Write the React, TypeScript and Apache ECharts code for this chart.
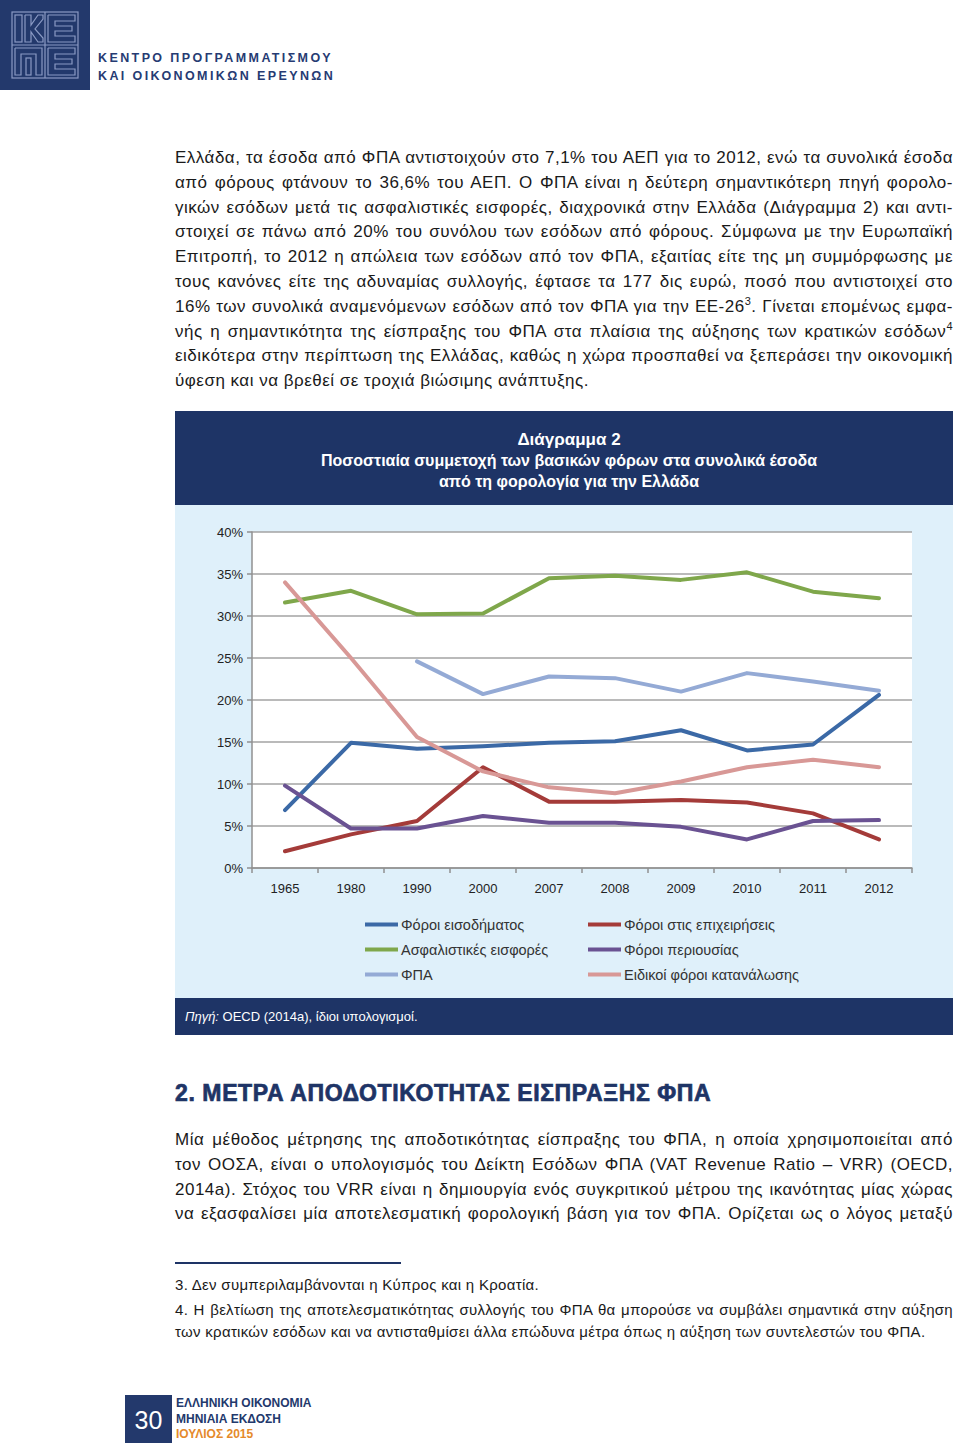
import React, { useEffect, useRef } from "react";
import * as echarts from "echarts";

const years = ["1965", "1980", "1990", "2000", "2007", "2008", "2009", "2010", "2011", "2012"];
const incomeTax = [6.9, 14.9, 14.2, 14.5, 14.9, 15.1, 16.4, 14.0, 14.7, 20.6];
const corporateTax = [2.0, 4.0, 5.6, 12.0, 7.9, 7.9, 8.1, 7.8, 6.5, 3.4];
const socialContrib = [31.6, 33.0, 30.2, 30.3, 34.5, 34.8, 34.3, 35.2, 32.9, 32.1];
const propertyTax = [9.8, 4.7, 4.7, 6.2, 5.4, 5.4, 4.9, 3.4, 5.6, 5.7];
const vat = [null, null, 24.6, 20.7, 22.8, 22.6, 21.0, 23.2, 22.2, 21.1];
const exciseTax = [34.0, 25.0, 15.6, 11.5, 9.6, 8.9, 10.3, 12.0, 12.9, 12.0];
const yTicks = [0, 5, 10, 15, 20, 25, 30, 35, 40];

const seriesNames = [
  "Φόροι εισοδήματος",
  "Φόροι στις επιχειρήσεις",
  "Ασφαλιστικές εισφορές",
  "Φόροι περιουσίας",
  "ΦΠΑ",
  "Ειδικοί φόροι κατανάλωσης",
];
const seriesColors = ["#3b69a6", "#a43b39", "#7fa74b", "#6a5292", "#94aad5", "#d89896"];
const seriesData = [incomeTax, corporateTax, socialContrib, propertyTax, vat, exciseTax];

const NAVY = "#1e3466";
const FONT = "'Liberation Sans', Arial, Helvetica, sans-serif";

function Chart() {
  const ref = useRef<HTMLDivElement>(null);
  useEffect(() => {
    if (!ref.current) return;
    const chart = echarts.init(ref.current, null, { renderer: "svg" });
    chart.setOption({
      animation: false,
      textStyle: { fontFamily: FONT },
      title: {
        text: "Διάγραμμα 2",
        subtext: "Ποσοστιαία συμμετοχή των βασικών φόρων στα συνολικά έσοδα\nαπό τη φορολογία για την Ελλάδα",
        left: 389,
        top: 13,
        itemGap: 0,
        textAlign: "center",
        textStyle: { color: "#fff", fontSize: 17, fontWeight: "bold", lineHeight: 21, fontFamily: FONT },
        subtextStyle: { color: "#fff", fontSize: 16, fontWeight: "bold", lineHeight: 21, fontFamily: FONT, align: "center" },
        z: 10,
      },
      graphic: [
        { type: "rect", shape: { x: 0, y: 0, width: 778, height: 94 }, style: { fill: NAVY }, z: -10, silent: true },
        { type: "rect", shape: { x: 0, y: 94, width: 778, height: 493 }, style: { fill: "#dff0fa" }, z: -10, silent: true },
        { type: "rect", shape: { x: 0, y: 587, width: 778, height: 37 }, style: { fill: NAVY }, z: -10, silent: true },
        {
          type: "text",
          x: 10,
          y: 605,
          style: {
            text: "{i|Πηγή:} OECD (2014a), ίδιοι υπολογισμοί.",
            fill: "#fff",
            fontSize: 13,
            fontFamily: FONT,
            verticalAlign: "middle",
            rich: { i: { fontStyle: "italic", fill: "#fff", fontSize: 13, fontFamily: FONT } },
          },
          z: 10,
        },
      ],
      grid: {
        left: 77,
        right: 41,
        top: 121,
        bottom: 167,
        show: true,
        backgroundColor: "#ffffff",
        borderWidth: 0,
      },
      legend: [
        {
          orient: "vertical",
          left: 185,
          top: 501,
          itemWidth: 33,
          itemHeight: 4,
          itemGap: 10,
          icon: "rect",
          data: [seriesNames[0], seriesNames[2], seriesNames[4]],
          textStyle: { fontSize: 14.5, color: "#333", lineHeight: 14, height: 14, fontFamily: FONT, padding: [0, 0, 0, -2] },
        },
        {
          orient: "vertical",
          left: 408,
          top: 501,
          itemWidth: 33,
          itemHeight: 4,
          itemGap: 10,
          icon: "rect",
          data: [seriesNames[1], seriesNames[3], seriesNames[5]],
          textStyle: { fontSize: 14.5, color: "#333", lineHeight: 14, height: 14, fontFamily: FONT, padding: [0, 0, 0, -2] },
        },
      ],
      xAxis: {
        type: "category",
        data: years,
        boundaryGap: true,
        axisLine: { lineStyle: { color: "#909090", width: 1.5 } },
        axisTick: { show: true, length: 5, lineStyle: { color: "#909090", width: 1.5 } },
        axisLabel: { color: "#222", fontSize: 13, margin: 14, fontFamily: FONT },
      },
      yAxis: {
        type: "value",
        min: yTicks[0],
        max: yTicks[yTicks.length - 1],
        interval: 5,
        axisLine: { show: true, lineStyle: { color: "#909090", width: 1.5 } },
        axisTick: { show: true, length: 5, lineStyle: { color: "#909090", width: 1.5 } },
        axisLabel: { formatter: "{value}%", color: "#222", fontSize: 13, margin: 9, fontFamily: FONT },
        splitLine: { lineStyle: { color: "#a3a3a3", width: 1.5 } },
      },
      series: seriesNames.map((name, i) => ({
        name,
        type: "line",
        data: seriesData[i],
        showSymbol: false,
        symbol: "none",
        connectNulls: false,
        lineStyle: { color: seriesColors[i], width: 4, cap: "round", join: "round" },
        itemStyle: { color: seriesColors[i] },
        emphasis: { disabled: true },
      })),
    });
    return () => chart.dispose();
  }, []);
  return <div ref={ref} style={{ position: "absolute", left: 175, top: 411, width: 778, height: 624 }} />;
}

const para1: string[] = [
  "Ελλάδα, τα έσοδα από ΦΠΑ αντιστοιχούν στο 7,1% του ΑΕΠ για το 2012, ενώ τα συνολικά έσοδα",
  "από φόρους φτάνουν το 36,6% του ΑΕΠ. Ο ΦΠΑ είναι η δεύτερη σημαντικότερη πηγή φορολο-",
  "γικών εσόδων μετά τις ασφαλιστικές εισφορές, διαχρονικά στην Ελλάδα (Διάγραμμα 2) και αντι-",
  "στοιχεί σε πάνω από 20% του συνόλου των εσόδων από φόρους. Σύμφωνα με την Ευρωπαϊκή",
  "Επιτροπή, το 2012 η απώλεια των εσόδων από τον ΦΠΑ, εξαιτίας είτε της μη συμμόρφωσης με",
  "τους κανόνες είτε της αδυναμίας συλλογής, έφτασε τα 177 δις ευρώ, ποσό που αντιστοιχεί στο",
];

const para2: string[] = [
  "Μία μέθοδος μέτρησης της αποδοτικότητας είσπραξης του ΦΠΑ, η οποία χρησιμοποιείται από",
  "τον ΟΟΣΑ, είναι ο υπολογισμός του Δείκτη Εσόδων ΦΠΑ (VAT Revenue Ratio – VRR) (OECD,",
  "2014a). Στόχος του VRR είναι η δημιουργία ενός συγκριτικού μέτρου της ικανότητας μίας χώρας",
  "να εξασφαλίσει μία αποτελεσματική φορολογική βάση για τον ΦΠΑ. Ορίζεται ως ο λόγος μεταξύ",
];

const lineStyle: React.CSSProperties = {
  height: 24.8,
  lineHeight: "24.8px",
  whiteSpace: "nowrap",
  textAlign: "justify",
  textAlignLast: "justify",
};
const lastLineStyle: React.CSSProperties = { ...lineStyle, textAlign: "left", textAlignLast: "left" };
const supStyle: React.CSSProperties = { fontSize: 11, verticalAlign: "super", lineHeight: 0 };

function Logo() {
  const c = "#8a9ac4";
  return (
    <svg width={90} height={90} style={{ position: "absolute", left: 0, top: 0 }}>
      <rect x={0} y={0} width={90} height={90} fill="#23396c" />
      <g fill="none" stroke={c} strokeWidth={1.2}>
        <rect x={12} y={12} width={66} height={66} />
        <line x1={12} y1={45} x2={78} y2={45} />
        <line x1={45} y1={12} x2={45} y2={78} />
        <rect x={15} y={15} width={7} height={27} />
        <polyline points="25,15 25,42 31,42 31,32 38,42 43,42 43,38 35,29 43,19 43,15 38,15 31,25 31,15 25,15" />
        <polyline points="48,15 75,15 75,21 55,21 55,26 72,26 72,31 55,31 55,36 75,36 75,42 48,42 48,15" />
        <polyline points="15,48 42,48 42,75 36,75 36,54 21,54 21,75 15,75 15,48" />
        <rect x={26} y={58} width={5} height={17} />
        <polyline points="48,48 75,48 75,54 55,54 55,59 72,59 72,64 55,64 55,69 75,69 75,75 48,75 48,48" />
      </g>
    </svg>
  );
}

const bodyFont: React.CSSProperties = { fontSize: 17, letterSpacing: 0.5 };

export default function App() {
  return (
    <div
      style={{
        position: "absolute",
        left: 0,
        top: 0,
        width: 960,
        height: 1443,
        background: "#fff",
        overflow: "hidden",
        fontFamily: FONT,
        color: "#1a1a1a",
      }}
    >
      <Logo />
      <div
        style={{
          position: "absolute",
          left: 98,
          top: 49,
          fontSize: 12.5,
          lineHeight: "18px",
          letterSpacing: 2.4,
          color: "#263b73",
          fontWeight: "bold",
          whiteSpace: "nowrap",
        }}
      >
        <div>ΚΕΝΤΡΟ ΠΡΟΓΡΑΜΜΑΤΙΣΜΟΥ</div>
        <div>ΚΑΙ ΟΙΚΟΝΟΜΙΚΩΝ ΕΡΕΥΝΩΝ</div>
      </div>

      <div style={{ position: "absolute", left: 175, top: 146, width: 778, color: "#1a1a1a", ...bodyFont }}>
        {para1.map((t, i) => (
          <div key={i} style={lineStyle}>
            {t}
          </div>
        ))}
        <div style={lineStyle}>
          16% των συνολικά αναμενόμενων εσόδων από τον ΦΠΑ για την ΕΕ-26<span style={supStyle}>3</span>. Γίνεται επομένως εμφα-
        </div>
        <div style={lineStyle}>
          νής η σημαντικότητα της είσπραξης του ΦΠΑ στα πλαίσια της αύξησης των κρατικών εσόδων<span style={supStyle}>4</span>
        </div>
        <div style={lineStyle}>ειδικότερα στην περίπτωση της Ελλάδας, καθώς η χώρα προσπαθεί να ξεπεράσει την οικονομική</div>
        <div style={lastLineStyle}>ύφεση και να βρεθεί σε τροχιά βιώσιμης ανάπτυξης.</div>
      </div>

      <Chart />

      <div
        style={{
          position: "absolute",
          left: 175,
          top: 1079,
          fontSize: 23,
          fontWeight: 900,
          letterSpacing: 0.6,
          color: NAVY,
          whiteSpace: "nowrap",
          lineHeight: "28px",
          WebkitTextStroke: "0.7px " + NAVY,
        }}
      >
        2. ΜΕΤΡΑ ΑΠΟΔΟΤΙΚΟΤΗΤΑΣ ΕΙΣΠΡΑΞΗΣ ΦΠΑ
      </div>

      <div style={{ position: "absolute", left: 175, top: 1128, width: 778, ...bodyFont }}>
        {para2.map((t, i) => (
          <div key={i} style={lineStyle}>
            {t}
          </div>
        ))}
      </div>

      <div style={{ position: "absolute", left: 175, top: 1262, width: 226, height: 1.5, background: NAVY }} />
      <div style={{ position: "absolute", left: 175, top: 1274, width: 778, fontSize: 15, letterSpacing: 0.3, color: "#1a1a1a" }}>
        <div style={{ height: 21, lineHeight: "21px", whiteSpace: "nowrap" }}>3. Δεν συμπεριλαμβάνονται η Κύπρος και η Κροατία.</div>
        <div style={{ height: 4 }} />
        <div style={{ ...lineStyle, height: 22, lineHeight: "22px" }}>
          4. Η βελτίωση της αποτελεσματικότητας συλλογής του ΦΠΑ θα μπορούσε να συμβάλει σημαντικά στην αύξηση
        </div>
        <div style={{ ...lastLineStyle, height: 22, lineHeight: "22px" }}>
          των κρατικών εσόδων και να αντισταθμίσει άλλα επώδυνα μέτρα όπως η αύξηση των συντελεστών του ΦΠΑ.
        </div>
      </div>

      <div
        style={{
          position: "absolute",
          left: 125,
          top: 1395,
          width: 47,
          height: 48,
          background: "#23396c",
          color: "#fff",
          fontSize: 25,
          lineHeight: "50px",
          textAlign: "center",
        }}
      >
        30
      </div>
      <div
        style={{
          position: "absolute",
          left: 176,
          top: 1396,
          fontSize: 12,
          fontWeight: "bold",
          lineHeight: "15.5px",
          whiteSpace: "nowrap",
        }}
      >
        <div style={{ color: "#23396c" }}>ΕΛΛΗΝΙΚΗ ΟΙΚΟΝΟΜΙΑ</div>
        <div style={{ color: "#23396c" }}>ΜΗΝΙΑΙΑ ΕΚΔΟΣΗ</div>
        <div style={{ color: "#e58a2b" }}>ΙΟΥΛΙΟΣ 2015</div>
      </div>
    </div>
  );
}
